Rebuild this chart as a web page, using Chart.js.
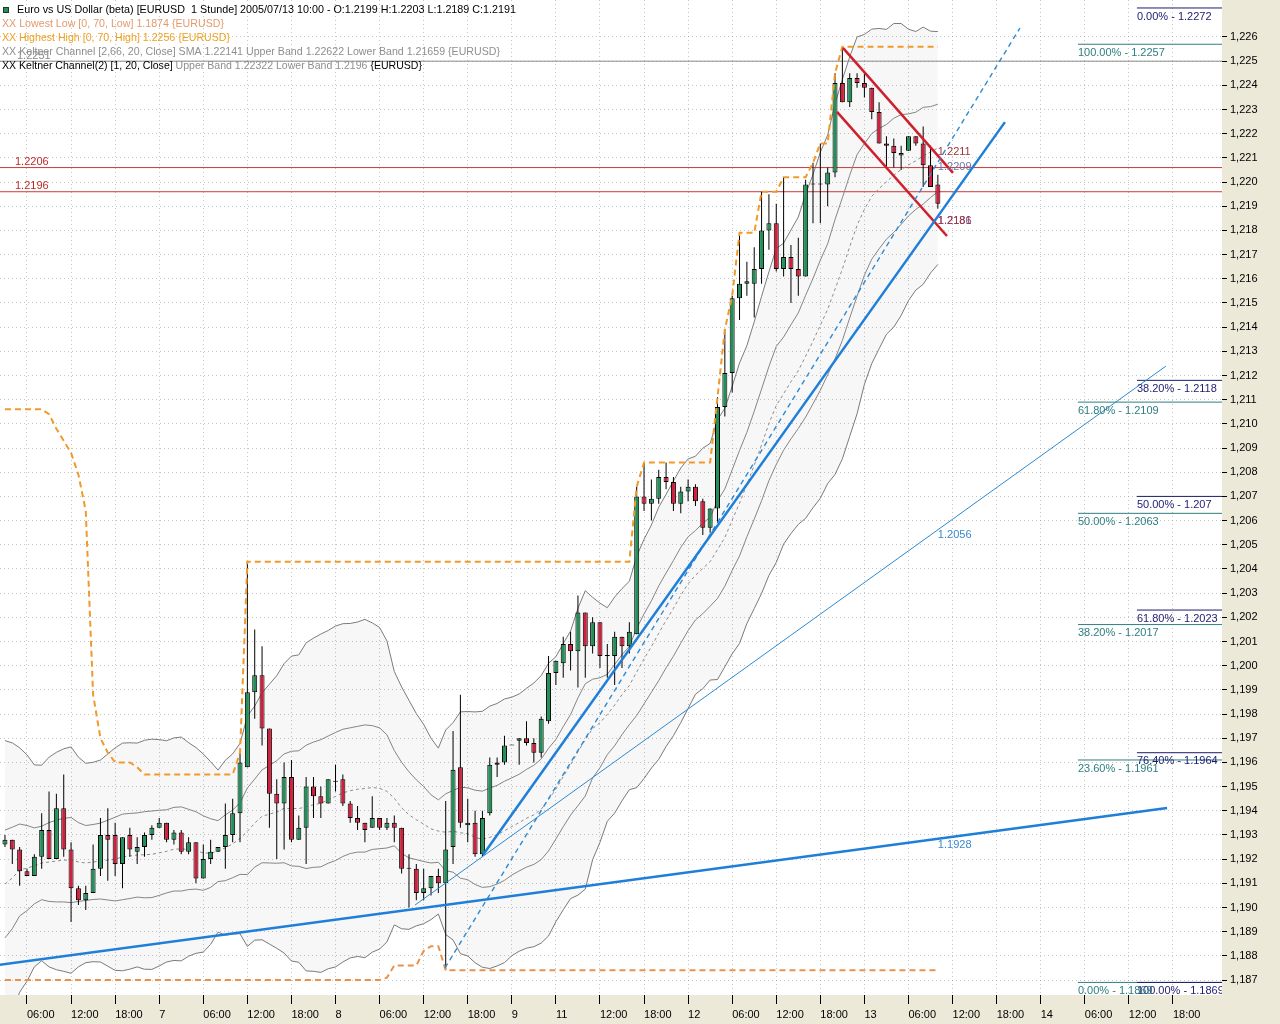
<!DOCTYPE html>
<html><head><meta charset="utf-8">
<script src="https://cdn.jsdelivr.net/npm/chart.js@4.4.1/dist/chart.umd.min.js"></script>
<style>html,body{margin:0;padding:0;background:#ECE9D8;}canvas{display:block;}</style>
</head><body>
<canvas id="c" width="1280" height="1024"></canvas>
<script>
// ---------- DATA ----------
const firstBar = -3; // bar number of the first candle (bar 0 = day 6, 06:00)
const opens = [
1.1926,1.1928,1.1924,1.1915,1.1913,1.1921,1.1932,1.1920,1.1941,1.1924,
1.1908,1.1903,1.1906,1.1916,1.1930,1.1930,1.1918,1.1930,1.1923,1.1925,
1.1930,1.1933,1.1935,1.1928,1.1931,1.1923,1.1927,1.1912,1.1920,1.1923,
1.1925,1.1930,1.1939,1.1958,1.1989,1.1996,1.1974,1.1947,1.1943,1.1954,
1.1928,1.1933,1.1950,1.1946,1.1943,1.1952,1.1953,1.1943,1.1937,1.1935,
1.1933,1.1937,1.1933,1.1935,1.1933,1.1916,1.1916,1.1906,1.1908,1.1913,
1.1910,1.1925,1.1958,1.1934,1.1935,1.1922,1.1939,1.1960,1.1960,1.1967,
1.1969,1.1970,1.1968,1.1964,1.1977,1.1997,1.2001,1.2009,1.2006,1.2022,
1.2008,1.2018,1.2004,1.2004,1.2012,1.2008,1.2013,1.2070,1.2067,1.2069,
1.2078,1.2076,1.2067,1.2072,1.2074,1.2068,1.2057,1.2065,1.2107,1.2121,
1.2152,1.2158,1.2158,1.2164,1.2180,1.2183,1.2164,1.2169,1.2164,1.2161,
1.2199,1.2199,1.2199,1.2204,1.2241,1.2233,1.2243,1.2241,1.2239,1.2229,
1.2216,1.2215,1.2211,1.2213,1.2219,1.2216,1.2207,1.2199];
const highs = [
1.1930,1.1928,1.1925,1.1916,1.1922,1.1939,1.1948,1.1947,1.1955,1.1927,
1.1909,1.1909,1.1926,1.1937,1.1941,1.1935,1.1929,1.1933,1.1929,1.1931,
1.1934,1.1937,1.1935,1.1932,1.1932,1.1929,1.1927,1.1926,1.1928,1.1925,
1.1943,1.1945,1.1964,1.2043,1.2015,1.2008,1.1974,1.1953,1.1960,1.1961,
1.1938,1.1954,1.1954,1.1950,1.1953,1.1959,1.1955,1.1944,1.1942,1.1935,
1.1946,1.1937,1.1937,1.1938,1.1933,1.1922,1.1918,1.1916,1.1913,1.1916,
1.1944,1.1973,1.1988,1.1945,1.1940,1.1940,1.1962,1.1962,1.1971,1.1967,
1.1970,1.1977,1.1970,1.1979,1.2004,1.2002,1.2012,1.2014,1.2029,1.2022,
1.2020,1.2018,1.2009,1.2014,1.2012,1.2018,1.2074,1.2084,1.2077,1.2081,
1.2084,1.2078,1.2074,1.2077,1.2075,1.2069,1.2065,1.2111,1.2139,1.2153,
1.2179,1.2167,1.2173,1.2196,1.2195,1.2191,1.2202,1.2174,1.2177,1.2201,
1.2208,1.2216,1.2206,1.2245,1.2256,1.2245,1.2245,1.2245,1.2239,1.2233,
1.2219,1.2218,1.2215,1.2219,1.2219,1.2223,1.2215,1.2203];
const lows = [
1.1925,1.1918,1.1909,1.1913,1.1913,1.1916,1.1920,1.1920,1.1921,1.1894,
1.1901,1.1899,1.1906,1.1913,1.1911,1.1913,1.1908,1.1921,1.1918,1.1921,
1.1928,1.1933,1.1927,1.1926,1.1922,1.1922,1.1910,1.1912,1.1918,1.1923,
1.1916,1.1927,1.1927,1.1958,1.1978,1.1967,1.1933,1.1920,1.1924,1.1927,
1.1928,1.1918,1.1937,1.1937,1.1943,1.1948,1.1942,1.1935,1.1932,1.1927,
1.1933,1.1932,1.1932,1.1927,1.1914,1.1900,1.1903,1.1903,1.1905,1.1906,
1.1874,1.1918,1.1933,1.1927,1.1921,1.1921,1.1938,1.1954,1.1959,1.1967,
1.1959,1.1967,1.1960,1.1962,1.1976,1.1992,1.1995,1.1998,1.1991,1.1995,
1.2005,1.1999,1.1995,1.1992,1.1999,1.2005,1.2013,1.2064,1.2060,1.2067,
1.2073,1.2064,1.2063,1.2068,1.2066,1.2054,1.2055,1.2059,1.2103,1.2113,
1.2143,1.2153,1.2144,1.2158,1.2172,1.2163,1.2161,1.2150,1.2153,1.2161,
1.2183,1.2183,1.2190,1.2202,1.2233,1.2231,1.2239,1.2235,1.2226,1.2216,
1.2206,1.2206,1.2205,1.2213,1.2215,1.2198,1.2198,1.2189];
const closes = [
1.1928,1.1924,1.1915,1.1913,1.1921,1.1932,1.1920,1.1941,1.1924,1.1908,
1.1903,1.1906,1.1916,1.1930,1.1928,1.1918,1.1929,1.1924,1.1925,1.1930,
1.1933,1.1935,1.1928,1.1931,1.1923,1.1927,1.1912,1.1920,1.1923,1.1925,
1.1930,1.1939,1.1960,1.1989,1.1996,1.1974,1.1947,1.1943,1.1954,1.1928,
1.1933,1.1950,1.1946,1.1943,1.1953,1.1952,1.1943,1.1937,1.1935,1.1932,
1.1937,1.1933,1.1935,1.1933,1.1916,1.1916,1.1906,1.1908,1.1913,1.1910,
1.1924,1.1957,1.1935,1.1935,1.1922,1.1937,1.1959,1.1959,1.1967,1.1967,
1.1970,1.1968,1.1964,1.1978,1.1997,1.2002,1.2009,1.2006,1.2022,1.2008,
1.2018,1.2004,1.2004,1.2012,1.2008,1.2014,1.2070,1.2067,1.2069,1.2078,
1.2076,1.2067,1.2072,1.2074,1.2068,1.2057,1.2065,1.2107,1.2121,1.2152,
1.2158,1.2159,1.2164,1.2180,1.2183,1.2164,1.2169,1.2164,1.2161,1.2199,
1.2199,1.2199,1.2204,1.2241,1.2233,1.2243,1.2241,1.2239,1.2229,1.2216,
1.2215,1.2212,1.2212,1.2219,1.2216,1.2207,1.2198,1.2191];
// Keltner channel middle (SMA 20, close) and channel unit width, per bar
const keltnerSma = [
1.19097,1.19122,1.19155,1.19163,1.19172,1.19184,1.19188,1.19192,1.19196,1.19196,
1.19188,1.19184,1.19188,1.19192,1.19196,1.19200,1.19209,1.19213,1.19217,1.19218,
1.19220,1.19226,1.19232,1.19241,1.19242,1.19240,1.19236,1.19225,1.19225,1.19233,
1.19247,1.19263,1.19285,1.19315,1.19349,1.19377,1.19386,1.19395,1.19410,1.19409,
1.19409,1.19416,1.19425,1.19431,1.19446,1.19459,1.19474,1.19483,1.19489,1.19492,
1.19496,1.19493,1.19480,1.19452,1.19412,1.19383,1.19363,1.19345,1.19325,1.19316,
1.19311,1.19315,1.19309,1.19305,1.19290,1.19282,1.19290,1.19301,1.19317,1.19335,
1.19351,1.19369,1.19383,1.19406,1.19446,1.19489,1.19541,1.19590,1.19644,1.19693,
1.19740,1.19764,1.19798,1.19837,1.19880,1.19918,1.19974,1.20028,1.20079,1.20134,
1.20187,1.20237,1.20291,1.20339,1.20374,1.20402,1.20430,1.20480,1.20530,1.20602,
1.20672,1.20749,1.20829,1.20913,1.21001,1.21076,1.21125,1.21174,1.21220,1.21280,
1.21342,1.21408,1.21474,1.21557,1.21640,1.21733,1.21821,1.21887,1.21941,1.21973,
1.22001,1.22028,1.22052,1.22071,1.22088,1.22109,1.22124,1.22141];
const keltnerWidth = [
0.00223,0.00210,0.00190,0.00176,0.00157,0.00152,0.00163,0.00169,0.00173,0.00176,
0.00163,0.00155,0.00155,0.00157,0.00165,0.00173,0.00177,0.00176,0.00174,0.00178,
0.00179,0.00176,0.00172,0.00173,0.00174,0.00166,0.00160,0.00154,0.00142,0.00126,
0.00136,0.00140,0.00148,0.00179,0.00182,0.00192,0.00202,0.00212,0.00225,0.00237,
0.00239,0.00255,0.00259,0.00263,0.00263,0.00265,0.00263,0.00260,0.00260,0.00263,
0.00256,0.00250,0.00234,0.00197,0.00188,0.00178,0.00165,0.00155,0.00141,0.00129,
0.00159,0.00169,0.00188,0.00190,0.00195,0.00199,0.00204,0.00204,0.00205,0.00201,
0.00200,0.00202,0.00205,0.00208,0.00212,0.00206,0.00207,0.00208,0.00223,0.00232,
0.00204,0.00186,0.00166,0.00168,0.00165,0.00162,0.00180,0.00186,0.00189,0.00196,
0.00196,0.00198,0.00198,0.00194,0.00185,0.00187,0.00184,0.00202,0.00201,0.00208,
0.00218,0.00216,0.00223,0.00231,0.00236,0.00244,0.00234,0.00236,0.00239,0.00252,
0.00259,0.00269,0.00271,0.00288,0.00295,0.00295,0.00293,0.00272,0.00260,0.00249,
0.00237,0.00236,0.00227,0.00211,0.00201,0.00200,0.00188,0.00181];
const keltnerInnerMult = 1;
const keltnerOuterMult = 2.66;
const highestHigh = [
1.2106,1.2106,1.2106,1.2106,1.2106,1.2106,1.2104,1.2098,1.2093,1.2088,
1.2079,1.2064,1.1988,1.1970,1.1964,1.1960,1.1960,1.1960,1.1958,1.1955,
1.1955,1.1955,1.1955,1.1955,1.1955,1.1955,1.1955,1.1955,1.1955,1.1955,
1.1955,1.1955,1.1964,1.2043,1.2043,1.2043,1.2043,1.2043,1.2043,1.2043,
1.2043,1.2043,1.2043,1.2043,1.2043,1.2043,1.2043,1.2043,1.2043,1.2043,
1.2043,1.2043,1.2043,1.2043,1.2043,1.2043,1.2043,1.2043,1.2043,1.2043,
1.2043,1.2043,1.2043,1.2043,1.2043,1.2043,1.2043,1.2043,1.2043,1.2043,
1.2043,1.2043,1.2043,1.2043,1.2043,1.2043,1.2043,1.2043,1.2043,1.2043,
1.2043,1.2043,1.2043,1.2043,1.2043,1.2043,1.2074,1.2084,1.2084,1.2084,
1.2084,1.2084,1.2084,1.2084,1.2084,1.2084,1.2084,1.2111,1.2139,1.2153,
1.2179,1.2179,1.2179,1.2196,1.2196,1.2196,1.2202,1.2202,1.2202,1.2202,
1.2208,1.2216,1.2216,1.2245,1.2256,1.2256,1.2256,1.2256,1.2256,1.2256,
1.2256,1.2256,1.2256,1.2256,1.2256,1.2256,1.2256,1.2256];
const lowestLow = [
1.1870,1.1870,1.1870,1.1870,1.1870,1.1870,1.1870,1.1870,1.1870,1.1870,
1.1870,1.1870,1.1870,1.1870,1.1870,1.1870,1.1870,1.1870,1.1870,1.1870,
1.1870,1.1870,1.1870,1.1870,1.1870,1.1870,1.1870,1.1870,1.1870,1.1870,
1.1870,1.1870,1.1870,1.1870,1.1870,1.1870,1.1870,1.1870,1.1870,1.1870,
1.1870,1.1870,1.1870,1.1870,1.1870,1.1870,1.1870,1.1870,1.1870,1.1870,
1.1870,1.1870,1.1871,1.1876,1.1876,1.1876,1.1876,1.1882,1.1884,1.1884,
1.1874,1.1874,1.1874,1.1874,1.1874,1.1874,1.1874,1.1874,1.1874,1.1874,
1.1874,1.1874,1.1874,1.1874,1.1874,1.1874,1.1874,1.1874,1.1874,1.1874,
1.1874,1.1874,1.1874,1.1874,1.1874,1.1874,1.1874,1.1874,1.1874,1.1874,
1.1874,1.1874,1.1874,1.1874,1.1874,1.1874,1.1874,1.1874,1.1874,1.1874,
1.1874,1.1874,1.1874,1.1874,1.1874,1.1874,1.1874,1.1874,1.1874,1.1874,
1.1874,1.1874,1.1874,1.1874,1.1874,1.1874,1.1874,1.1874,1.1874,1.1874,
1.1874,1.1874,1.1874,1.1874,1.1874,1.1874,1.1874,1.1874];
// x axis ticks (bar number) and their labels
const xTickBars = [0,6,12,18,24,30,36,42,48,54,60,66,72,78,84,90,96,102,108,114,120,126,132,138,144,150,156];
const xTickLabels = ['06:00','12:00','18:00','7','06:00','12:00','18:00','8','06:00','12:00','18:00','9','11','12:00','18:00','12','06:00','12:00','18:00','13','06:00','12:00','18:00','14','06:00','12:00','18:00'];
const yTickValues = [1.187,1.188,1.189,1.190,1.191,1.192,1.193,1.194,1.195,1.196,1.197,1.198,1.199,1.200,1.201,1.202,1.203,1.204,1.205,1.206,1.207,1.208,1.209,1.210,1.211,1.212,1.213,1.214,1.215,1.216,1.217,1.218,1.219,1.220,1.221,1.222,1.223,1.224,1.225,1.226];
// drawn objects: [bar, price] end points
const supportLine  = [[-4, 1.18762], [155.2, 1.19411]];
const thinTrend    = [[52.82, 1.19010], [155.05, 1.21239]];
const steepTrend   = [[62.07, 1.19217], [133.13, 1.22248]];
const dashedTrend  = [[56.9, 1.18750], [135.17, 1.22637]];
const channelUpper = [[111.08, 1.22555], [126.06, 1.22038]];
const channelLower = [[110.27, 1.22290], [125.24, 1.21777]];
const redLevels = [1.2206, 1.2196];
const greyLevel = 1.2250;
// Fibonacci retracements
const fibNavyStart = 151.1;
const fibNavyValues = [1.2272, 1.2118, 1.207, 1.2023, 1.1964, 1.1869];
const fibNavyLabels = ['0.00% - 1.2272','38.20% - 1.2118','50.00% - 1.207','61.80% - 1.2023','76.40% - 1.1964','100.00% - 1.1869'];
const fibTealStart = 143.07;
const fibTealValues = [1.2257, 1.2109, 1.2063, 1.2017, 1.1961, 1.1869];
const fibTealLabels = ['100.00% - 1.2257','61.80% - 1.2109','50.00% - 1.2063','38.20% - 1.2017','23.60% - 1.1961','0.00% - 1.1869'];
// value labels at the last bar
const lineLabelTexts  = ['1.2211','1.2209','1.2186','1.2181','1.2056','1.1928'];
const lineLabelValues = [1.2211, 1.2209, 1.2186, 1.2181, 1.2056, 1.1928];

// ---------- STYLE ----------
const UP = '#23905A', DOWN = '#D11F3E';
const BLUE = '#1F7FD8', BLUE_T = '#2C8AD2', RED = '#CF1F2D';
const NAVY = '#1C1C6E', TEAL = '#2E7E80';
const FONT = "'Liberation Sans', Arial, sans-serif";
Chart.defaults.font.family = FONT;
Chart.defaults.font.size = 11;
Chart.defaults.color = '#000';

const bars = opens.map((_, i) => firstBar + i);
const seg = (pts) => pts.map(p => ({x: p[0], y: p[1]}));
const lineDs = (data, color, width, order, extra) => Object.assign({
  type: 'line', data, borderColor: color, borderWidth: width, pointRadius: 0,
  tension: 0, fill: false, order, spanGaps: true
}, extra || {});

const lastBar = bars[bars.length - 1];
const datasets = [];
datasets.push(lineDs(bars.map((x,i)=>({x, y: keltnerSma[i] + keltnerOuterMult*keltnerWidth[i]})), '#7C7C7C', 1, 6,
  {fill: '+1', backgroundColor: 'rgba(0,0,0,0.032)'}));
datasets.push(lineDs(bars.map((x,i)=>({x, y: keltnerSma[i] - keltnerOuterMult*keltnerWidth[i]})), '#7C7C7C', 1, 6));
datasets.push(lineDs(bars.map((x,i)=>({x, y: keltnerSma[i] + keltnerInnerMult*keltnerWidth[i]})), '#858585', 1, 5));
datasets.push(lineDs(bars.map((x,i)=>({x, y: keltnerSma[i] - keltnerInnerMult*keltnerWidth[i]})), '#858585', 1, 5));
datasets.push(lineDs(bars.map((x,i)=>({x, y: keltnerSma[i]})), '#8C8C8C', 1, 5, {borderDash: [3,3]}));
redLevels.forEach(v => datasets.push(lineDs([{x:-5,y:v},{x:170,y:v}], '#C93A3A', 1, 5)));
datasets.push(lineDs([{x:-5,y:greyLevel},{x:170,y:greyLevel}], '#8A8A8A', 1, 5));
datasets.push({type:'bar', data: bars.map((x,i)=>({x, y:[opens[i], closes[i]]})),
  backgroundColor: opens.map((o,i)=> closes[i]>o ? UP : (closes[i]<o ? DOWN : '#000')),
  borderColor:'#000', borderWidth:1, borderSkipped:false, barThickness:5, grouped:false,
  minBarLength:1, inflateAmount:0, order:2});
datasets.push({type:'bar', data: bars.map((x,i)=>({x, y:[lows[i], highs[i]]})),
  backgroundColor:'#000', borderWidth:0, barThickness:1, grouped:false, inflateAmount:0, order:3});
datasets.push(lineDs(bars.map((x,i)=>({x, y: highestHigh[i]})), '#F19A2A', 2, 1, {borderDash:[6,4]}));
datasets.push(lineDs(bars.map((x,i)=>({x, y: lowestLow[i]})), '#E9924E', 2, 1, {borderDash:[6,4]}));
datasets.push(lineDs(seg(supportLine), BLUE, 2.5, 0));
datasets.push(lineDs(seg(thinTrend), BLUE_T, 1, 0));
datasets.push(lineDs(seg(steepTrend), BLUE, 2.5, 0));
datasets.push(lineDs(seg(dashedTrend), BLUE_T, 1.4, 0, {borderDash:[5,4]}));
datasets.push(lineDs(seg(channelUpper), RED, 2.5, 0));
datasets.push(lineDs(seg(channelLower), RED, 2.5, 0));
fibNavyValues.forEach(v => datasets.push(lineDs([{x:fibNavyStart,y:v},{x:170,y:v}], NAVY, 1, 0)));
fibTealValues.forEach(v => datasets.push(lineDs([{x:fibTealStart,y:v},{x:170,y:v}], TEAL, 1, 0)));

function fitText(ctx, parts, x, y, totalW) {
  const full = parts.map(p=>p[0]).join('');
  const m = ctx.measureText(full).width;
  const s = totalW ? totalW / m : 1;
  ctx.save(); ctx.translate(x, y); ctx.scale(s, 1);
  let cx = 0;
  parts.forEach(([t, c]) => { ctx.fillStyle = c; ctx.fillText(t, cx, 0); cx += ctx.measureText(t).width; });
  ctx.restore();
}

const bgPlugin = {
  id: 'bg',
  beforeDraw(chart) {
    const {ctx, chartArea: a} = chart;
    ctx.save();
    ctx.fillStyle = '#ECE9D8'; ctx.fillRect(0, 0, chart.width, chart.height);
    ctx.fillStyle = '#FFFFFF'; ctx.fillRect(a.left, a.top, a.right - a.left, a.bottom - a.top);
    ctx.restore();
  },
  afterDatasetsDraw(chart) {
    const {ctx, chartArea: a} = chart;
    const xs = chart.scales.x, ys = chart.scales.y;
    ctx.save();
    ctx.beginPath(); ctx.rect(a.left, a.top, a.right - a.left, a.bottom - a.top); ctx.clip();
    ctx.font = '11px ' + FONT;
    ctx.textBaseline = 'top'; ctx.textAlign = 'left';
    fibNavyValues.forEach((v, i) => {
      ctx.fillStyle = NAVY;
      ctx.fillText(fibNavyLabels[i], xs.getPixelForValue(fibNavyStart), ys.getPixelForValue(v) + 3);
    });
    fibTealValues.forEach((v, i) => {
      ctx.fillStyle = TEAL;
      ctx.fillText(fibTealLabels[i], xs.getPixelForValue(fibTealStart), ys.getPixelForValue(v) + 3);
    });
    const lx = xs.getPixelForValue(lastBar);
    const labColors = ['#9E3535', '#6E7AA6', '#6A5FA8', '#A3303C', '#3A88CC', '#3A88CC'];
    const dy = [-4, 7, 5, -7, 5, 5];
    ctx.textBaseline = 'middle';
    lineLabelTexts.forEach((t, i) => {
      ctx.fillStyle = labColors[i];
      ctx.fillText(t, lx, ys.getPixelForValue(lineLabelValues[i]) + dy[i]);
    });
    ctx.fillStyle = '#C02828';
    redLevels.forEach(v => ctx.fillText(v.toFixed(4), 15, ys.getPixelForValue(v) - 6));
    ctx.fillStyle = '#8A8A8A';
    ctx.fillText('1.2251', 17, ys.getPixelForValue(greyLevel) - 5);
    ctx.restore();
  },
  afterDraw(chart) {
    const ctx = chart.ctx;
    ctx.save();
    ctx.font = '11px ' + FONT;
    ctx.textBaseline = 'middle'; ctx.textAlign = 'left';
    ctx.fillStyle = '#2E8B57'; ctx.fillRect(3, 7, 6, 6);
    ctx.strokeStyle = '#1A3A2A'; ctx.lineWidth = 1; ctx.strokeRect(3.5, 7.5, 5, 5);
    fitText(ctx, [['Euro vs US Dollar (beta) [EURUSD  1 Stunde] 2005/07/13 10:00 - O:1.2199 H:1.2203 L:1.2189 C:1.2191', '#000']], 17, 10, 499);
    fitText(ctx, [['XX Lowest Low [0, 70, Low] 1.1874 {EURUSD}', '#E49A6C']], 2, 24, 222);
    fitText(ctx, [['XX Highest High [0, 70, High] 1.2256 {EURUSD}', '#EFA020']], 2, 38, 228);
    fitText(ctx, [['XX Keltner Channel [2,66, 20, Close] SMA 1.22141 Upper Band 1.22622 Lower Band 1.21659 {EURUSD}', '#8E8E8E']], 2, 52, 498);
    fitText(ctx, [['XX Keltner Channel(2) [1, 20, Close] ', '#000'], ['Upper Band 1.22322 Lower Band 1.2196 ', '#8E8E8E'], ['{EURUSD}', '#000']], 2, 66, 420);
    ctx.restore();
  }
};

new Chart(document.getElementById('c'), {
  type: 'line',
  data: { datasets },
  options: {
    responsive: false, animation: false, devicePixelRatio: 1, events: [],
    layout: { padding: 0 },
    plugins: { legend: { display: false }, tooltip: { enabled: false } },
    scales: {
      x: {
        type: 'linear', position: 'bottom', min: -3.675, max: 162.68, offset: false,
        afterBuildTicks: s => { s.ticks = xTickBars.map(v => ({value: v})); },
        afterFit: s => { s.height = 29; s.paddingLeft = 0; s.paddingRight = 0; },
        ticks: { autoSkip: false, maxRotation: 0, minRotation: 0, align: 'start', padding: 4,
          callback: (v, i) => xTickLabels[i], color: '#000', font: {size: 11} },
        grid: { color: 'rgba(140,140,140,0.5)', lineWidth: 1, offset: false, drawTicks: true,
          tickLength: 9, tickColor: '#000', tickWidth: 1, tickBorderDash: [] },
        border: { display: false, dash: [1, 3] }
      },
      y: {
        type: 'linear', position: 'right', min: 1.18638, max: 1.22753,
        afterBuildTicks: s => { s.ticks = yTickValues.map(v => ({value: v})); },
        afterFit: s => { s.width = 58; s.paddingTop = 0; s.paddingBottom = 0; },
        ticks: { padding: 3, callback: v => v.toFixed(3).replace('.', ','), color: '#000', font: {size: 11} },
        grid: { color: 'rgba(140,140,140,0.5)', lineWidth: 1, drawTicks: true,
          tickLength: 5, tickColor: '#000', tickWidth: 1, tickBorderDash: [] },
        border: { display: false, dash: [1, 3] }
      }
    }
  },
  plugins: [bgPlugin]
});
</script>
</body></html>
